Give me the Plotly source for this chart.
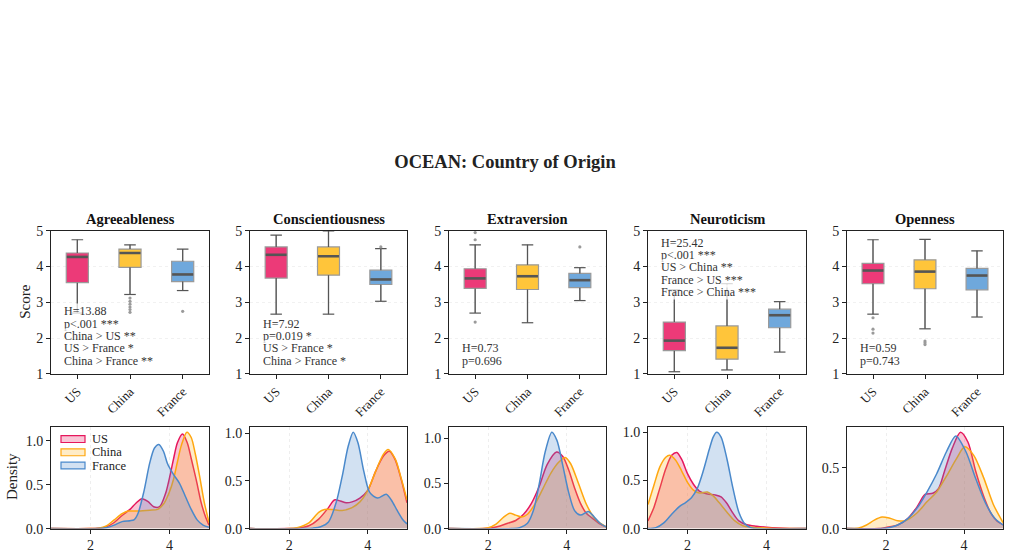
import plotly.graph_objects as go

# ---------------- data ----------------
COUNTRIES = ["US", "China", "France"]
TRAITS = ["Agreeableness", "Conscientiousness", "Extraversion", "Neuroticism", "Openness"]

BOX_COLORS = ["#EC3A78", "#FFC53A", "#6FA8DC"]
LINE_COLORS = ["#E6175C", "#FFA70F", "#4A89CB"]
FILL_COLORS = ["rgba(230,23,92,0.25)", "rgba(255,180,30,0.25)", "rgba(74,137,203,0.25)"]

# box statistics per trait: [US, China, France]
LOWER = {
    "Agreeableness": [2.70, 3.22, 3.33],
    "Conscientiousness": [2.67, 2.67, 3.03],
    "Extraversion": [2.70, 2.43, 3.05],
    "Neuroticism": [1.06, 1.11, 1.61],
    "Openness": [2.67, 2.26, 2.59],
}
Q1 = {
    "Agreeableness": [3.55, 3.98, 3.58],
    "Conscientiousness": [3.68, 3.76, 3.50],
    "Extraversion": [3.39, 3.36, 3.41],
    "Neuroticism": [1.65, 1.41, 2.29],
    "Openness": [3.52, 3.38, 3.35],
}
MEDIAN = {
    "Agreeableness": [4.27, 4.38, 3.78],
    "Conscientiousness": [4.33, 4.29, 3.64],
    "Extraversion": [3.67, 3.73, 3.62],
    "Neuroticism": [1.93, 1.73, 2.64],
    "Openness": [3.89, 3.86, 3.75],
}
Q3 = {
    "Agreeableness": [4.38, 4.49, 4.15],
    "Conscientiousness": [4.55, 4.55, 3.90],
    "Extraversion": [3.94, 4.05, 3.81],
    "Neuroticism": [2.45, 2.34, 2.81],
    "Openness": [4.09, 4.19, 3.95],
}
UPPER = {
    "Agreeableness": [4.75, 4.61, 4.49],
    "Conscientiousness": [4.88, 5.00, 4.50],
    "Extraversion": [4.61, 4.61, 3.97],
    "Neuroticism": [3.35, 3.52, 3.02],
    "Openness": [4.75, 4.76, 4.44],
}
OUTLIERS = {
    "Agreeableness": [[], [3.12, 3.03, 2.95, 2.87, 2.80, 2.72], [2.75]],
    "Conscientiousness": [[], [], [4.55]],
    "Extraversion": [[4.95, 4.75, 2.45], [], [4.55]],
    "Neuroticism": [[], [], []],
    "Openness": [[2.57, 2.25, 2.14], [1.92, 1.87, 1.82], []],
}

STATS_TEXT = {
    "Agreeableness": ["H=13.88", "p<.001 ***", "China > US **", "US > France *", "China > France **"],
    "Conscientiousness": ["H=7.92", "p=0.019 *", "US > France *", "China > France *"],
    "Extraversion": ["H=0.73", "p=0.696"],
    "Neuroticism": ["H=25.42", "p<.001 ***", "US > China **", "France > US ***", "France > China ***"],
    "Openness": ["H=0.59", "p=0.743"],
}
STATS_AT_TOP = {"Agreeableness": False, "Conscientiousness": False, "Extraversion": False,
                "Neuroticism": True, "Openness": False}

# density curves: (x values, density values) per country
DENSITY = {
    "Agreeableness": [
        ([1.0, 2.0, 2.2, 2.4, 2.6, 2.8, 3.0, 3.15, 3.3, 3.45, 3.6, 3.75, 3.9, 4.0, 4.1, 4.2, 4.33, 4.45, 4.55, 4.68, 4.8, 4.9, 5.0],
         [0, 0, 0.005, 0.02, 0.07, 0.15, 0.22, 0.29, 0.34, 0.31, 0.25, 0.25, 0.40, 0.58, 0.79, 0.98, 1.08, 0.98, 0.80, 0.55, 0.30, 0.15, 0.04]),
        ([1.0, 2.0, 2.2, 2.4, 2.6, 2.8, 2.95, 3.2, 3.5, 3.7, 3.85, 4.0, 4.1, 4.2, 4.3, 4.44, 4.55, 4.65, 4.77, 4.88, 5.0],
         [0, 0, 0.005, 0.03, 0.10, 0.17, 0.20, 0.20, 0.21, 0.22, 0.28, 0.42, 0.56, 0.76, 0.95, 1.10, 1.04, 0.86, 0.58, 0.30, 0.07]),
        ([1.0, 2.2, 2.4, 2.6, 2.8, 3.0, 3.1, 3.2, 3.35, 3.5, 3.62, 3.73, 3.85, 3.95, 4.1, 4.25, 4.4, 4.55, 4.7, 4.85, 5.0],
         [0, 0, 0.01, 0.04, 0.08, 0.09, 0.10, 0.17, 0.42, 0.75, 0.92, 0.96, 0.88, 0.74, 0.62, 0.52, 0.37, 0.22, 0.10, 0.04, 0.015]),
    ],
    "Conscientiousness": [
        ([1.0, 2.0, 2.2, 2.5, 2.75, 3.0, 3.15, 3.3, 3.45, 3.6, 3.8, 4.0, 4.2, 4.4, 4.55, 4.7, 4.85, 5.0],
         [0, 0, 0.005, 0.03, 0.10, 0.22, 0.30, 0.29, 0.27, 0.28, 0.32, 0.40, 0.60, 0.76, 0.81, 0.72, 0.52, 0.27]),
        ([1.0, 2.0, 2.2, 2.5, 2.75, 2.9, 3.1, 3.35, 3.6, 3.8, 4.0, 4.2, 4.4, 4.52, 4.7, 4.85, 5.0],
         [0, 0, 0.01, 0.06, 0.17, 0.20, 0.20, 0.19, 0.22, 0.28, 0.40, 0.60, 0.78, 0.83, 0.73, 0.53, 0.30]),
        ([1.0, 2.4, 2.6, 2.8, 3.0, 3.2, 3.35, 3.5, 3.63, 3.75, 3.9, 4.05, 4.25, 4.47, 4.6, 4.75, 4.9, 5.0],
         [0, 0, 0.005, 0.02, 0.07, 0.28, 0.55, 0.86, 1.01, 0.90, 0.60, 0.38, 0.32, 0.36, 0.30, 0.19, 0.09, 0.05]),
    ],
    "Extraversion": [
        ([1.0, 1.9, 2.1, 2.3, 2.5, 2.7, 2.9, 3.1, 3.3, 3.5, 3.74, 3.9, 4.05, 4.2, 4.35, 4.5, 4.7, 4.85, 5.0],
         [0, 0, 0.01, 0.03, 0.06, 0.09, 0.16, 0.28, 0.47, 0.71, 0.85, 0.80, 0.65, 0.45, 0.28, 0.17, 0.10, 0.05, 0.02]),
        ([1.0, 1.8, 2.0, 2.2, 2.4, 2.55, 2.7, 2.85, 3.0, 3.2, 3.4, 3.6, 3.8, 3.96, 4.1, 4.3, 4.5, 4.7, 4.85, 5.0],
         [0, 0, 0.01, 0.05, 0.13, 0.17, 0.15, 0.13, 0.16, 0.28, 0.45, 0.62, 0.74, 0.79, 0.72, 0.50, 0.27, 0.12, 0.06, 0.02]),
        ([1.0, 2.6, 2.8, 3.0, 3.15, 3.3, 3.45, 3.62, 3.75, 3.9, 4.05, 4.2, 4.35, 4.55, 4.7, 4.85, 5.0],
         [0, 0, 0.01, 0.06, 0.20, 0.50, 0.85, 1.07, 0.98, 0.70, 0.40, 0.20, 0.15, 0.19, 0.13, 0.06, 0.02]),
    ],
    "Neuroticism": [
        ([1.0, 1.15, 1.3, 1.45, 1.6, 1.73, 1.85, 2.0, 2.15, 2.3, 2.5, 2.7, 2.85, 3.0, 3.15, 3.3, 3.5, 3.75, 4.0, 4.3, 4.6, 5.0],
         [0.08, 0.22, 0.42, 0.62, 0.76, 0.79, 0.72, 0.57, 0.46, 0.39, 0.36, 0.35, 0.33, 0.26, 0.16, 0.08, 0.04, 0.025, 0.015, 0.007, 0.002, 0]),
        ([1.0, 1.15, 1.3, 1.45, 1.55, 1.7, 1.85, 2.0, 2.15, 2.3, 2.5, 2.65, 2.8, 3.0, 3.2, 3.4, 3.6, 3.9, 4.2, 5.0],
         [0.25, 0.45, 0.64, 0.74, 0.76, 0.71, 0.60, 0.48, 0.40, 0.37, 0.38, 0.34, 0.27, 0.17, 0.08, 0.03, 0.015, 0.008, 0.002, 0]),
        ([1.0, 1.2, 1.4, 1.6, 1.8, 1.95, 2.1, 2.25, 2.4, 2.55, 2.65, 2.74, 2.85, 3.0, 3.15, 3.3, 3.45, 3.6, 3.8, 5.0],
         [0, 0.01, 0.06, 0.15, 0.23, 0.27, 0.32, 0.42, 0.60, 0.82, 0.95, 1.00, 0.95, 0.72, 0.42, 0.17, 0.05, 0.01, 0, 0]),
    ],
    "Openness": [
        ([1.0, 1.8, 2.0, 2.3, 2.55, 2.8, 3.0, 3.2, 3.35, 3.5, 3.7, 3.91, 4.1, 4.3, 4.5, 4.7, 4.85, 5.0],
         [0, 0, 0.01, 0.03, 0.08, 0.18, 0.28, 0.29, 0.33, 0.47, 0.66, 0.79, 0.71, 0.47, 0.27, 0.12, 0.06, 0.03]),
        ([1.0, 1.3, 1.5, 1.7, 1.9, 2.1, 2.3, 2.5, 2.8, 3.05, 3.3, 3.55, 3.8, 4.02, 4.25, 4.5, 4.75, 5.0],
         [0, 0.005, 0.03, 0.07, 0.095, 0.085, 0.065, 0.065, 0.13, 0.22, 0.30, 0.43, 0.57, 0.67, 0.60, 0.42, 0.20, 0.05]),
        ([1.0, 1.9, 2.1, 2.3, 2.55, 2.8, 3.05, 3.3, 3.55, 3.79, 4.05, 4.3, 4.55, 4.8, 5.0],
         [0, 0, 0.01, 0.03, 0.08, 0.17, 0.30, 0.45, 0.63, 0.76, 0.63, 0.41, 0.21, 0.08, 0.03]),
    ],
}

SCORE_TICKS = [1, 2, 3, 4, 5]
DENS_X_TICKS = [2, 4]

# ---------------- layout helpers ----------------
W, H = 1010, 559
FONT = "Liberation Serif, Times New Roman, serif"
COL_LEFT = [51, 250, 449, 648, 847]
COL_RIGHT = [209, 407, 606, 806, 1003]
BOX_TOP, BOX_BOT = 230, 377
DEN_TOP, DEN_BOT = 432, 536
BOX_W = 0.42
CAP_W = 0.11
LINE_GAP = 12.7


def py(v):
    return 1 - v / H


fig = go.Figure()
annotations = []
shapes = []
layout_axes = {}

for i, trait in enumerate(TRAITS):
    bx, by = f"x{i + 1}", f"y{i + 1}"
    dx, dy = f"x{i + 6}", f"y{i + 6}"
    xdom = [COL_LEFT[i] / W, COL_RIGHT[i] / W]

    # ---- box plots ----
    for j, c in enumerate(COUNTRIES):
        fig.add_trace(go.Box(
            x=[j], q1=[Q1[trait][j]], median=[MEDIAN[trait][j]], q3=[Q3[trait][j]],
            lowerfence=[LOWER[trait][j]], upperfence=[UPPER[trait][j]],
            width=BOX_W, fillcolor=BOX_COLORS[j], whiskerwidth=0,
            line=dict(color="#9a9a9a", width=1.2), boxpoints=False,
            xaxis=bx, yaxis=by, showlegend=False, hoverinfo="skip"))
        lo, q1, med, q3, up = (LOWER[trait][j], Q1[trait][j], MEDIAN[trait][j],
                               Q3[trait][j], UPPER[trait][j])
        # whiskers and caps
        fig.add_trace(go.Scatter(
            x=[j, j, None, j, j, None, j - CAP_W, j + CAP_W, None, j - CAP_W, j + CAP_W],
            y=[q3, up, None, lo, q1, None, up, up, None, lo, lo],
            mode="lines", line=dict(color="#555555", width=1.2),
            xaxis=bx, yaxis=by, showlegend=False, hoverinfo="skip"))
        # median
        fig.add_trace(go.Scatter(
            x=[j - BOX_W / 2 + 0.01, j + BOX_W / 2 - 0.01], y=[med, med],
            mode="lines", line=dict(color="#555555", width=2.6),
            xaxis=bx, yaxis=by, showlegend=False, hoverinfo="skip"))
        outs = OUTLIERS[trait][j]
        if outs:
            fig.add_trace(go.Scatter(
                x=[j] * len(outs), y=outs, mode="markers",
                marker=dict(color="#9a9a9a", size=3.2),
                xaxis=bx, yaxis=by, showlegend=False, hoverinfo="skip"))

    # ---- density curves ----
    ymax = 0
    for j, c in enumerate(COUNTRIES):
        xs, ys = DENSITY[trait][j]
        ymax = max(ymax, max(ys))
        fig.add_trace(go.Scatter(
            x=xs, y=ys, mode="lines", fill="tozeroy", fillcolor=FILL_COLORS[j],
            line=dict(color=LINE_COLORS[j], width=1.5, shape="spline", smoothing=0.8),
            xaxis=dx, yaxis=dy, showlegend=False, hoverinfo="skip"))

    common = dict(showline=True, linecolor="#222", linewidth=1, mirror=True,
                  ticks="outside", ticklen=4, tickcolor="#222", zeroline=False,
                  tickfont=dict(family=FONT, size=14, color="#222"))
    layout_axes[f"xaxis{i + 1}"] = dict(
        common, domain=xdom, anchor=by, range=[-0.5, 2.5],
        tickvals=list(range(len(COUNTRIES))), ticktext=COUNTRIES, tickangle=-45,
        tickfont=dict(family=FONT, size=13, color="#222"), showgrid=False)
    layout_axes[f"yaxis{i + 1}"] = dict(
        common, domain=[py(BOX_BOT), py(BOX_TOP)], anchor=bx, range=[1, 5],
        tickvals=SCORE_TICKS, showgrid=True, gridcolor="#f1f1f1", griddash="dot", gridwidth=1)
    layout_axes[f"xaxis{i + 6}"] = dict(
        common, domain=xdom, anchor=dy, range=[1, 5], tickvals=DENS_X_TICKS,
        showgrid=True, gridcolor="#eeeeee", griddash="dot", gridwidth=1)
    layout_axes[f"yaxis{i + 6}"] = dict(
        common, domain=[py(DEN_BOT), py(DEN_TOP)], anchor=dx, range=[0, ymax * 1.05],
        dtick=0.5, tickformat=".1f", showgrid=False)

    # subplot title
    annotations.append(dict(
        text=f"<b>{trait}</b>", xref="paper", yref="paper",
        x=(xdom[0] + xdom[1]) / 2, y=py(218), xanchor="center", yanchor="middle",
        showarrow=False, font=dict(family=FONT, size=14.5, color="#111")))

    # statistics text
    lines = STATS_TEXT[trait]
    n = len(lines)
    for k, line in enumerate(lines):
        if STATS_AT_TOP[trait]:
            ypx = BOX_TOP + 12 + k * LINE_GAP
        else:
            ypx = BOX_BOT - 13.6 - (n - 1 - k) * LINE_GAP
        annotations.append(dict(
            text=line, xref="paper", yref="paper",
            x=(COL_LEFT[i] + 12) / W, y=py(ypx), xanchor="left", yanchor="middle",
            showarrow=False, bgcolor="rgba(255,255,255,0.75)", borderpad=0,
            font=dict(family=FONT, size=12, color="#333")))

# axis titles
annotations.append(dict(text="Score", xref="paper", yref="paper", x=25 / W, y=py(303),
                        textangle=-90, showarrow=False, xanchor="center", yanchor="middle",
                        font=dict(family=FONT, size=15, color="#222")))
annotations.append(dict(text="Density", xref="paper", yref="paper", x=12 / W, y=py(483),
                        textangle=-90, showarrow=False, xanchor="center", yanchor="middle",
                        font=dict(family=FONT, size=15, color="#222")))

# legend (drawn in first density panel)
for j, c in enumerate(COUNTRIES):
    yc = 444 + j * 13.6
    shapes.append(dict(type="rect", xref="paper", yref="paper",
                       x0=61 / W, x1=85 / W, y0=py(yc + 3.5), y1=py(yc - 3.5),
                       fillcolor=FILL_COLORS[j], line=dict(color=LINE_COLORS[j], width=1.2)))
    annotations.append(dict(text=c, xref="paper", yref="paper", x=90 / W, y=py(yc),
                            xanchor="left", yanchor="middle", showarrow=False,
                            font=dict(family=FONT, size=12.5, color="#222")))

fig.update_layout(
    width=W, height=H, margin=dict(l=0, r=0, t=0, b=0),
    paper_bgcolor="white", plot_bgcolor="white",
    title=dict(text="<b>OCEAN: Country of Origin</b>", x=0.5, xanchor="center",
               y=py(162), yanchor="middle", font=dict(family=FONT, size=18.5, color="#222")),
    annotations=annotations, shapes=shapes, showlegend=False,
    **layout_axes)

fig.write_html("out.html")
